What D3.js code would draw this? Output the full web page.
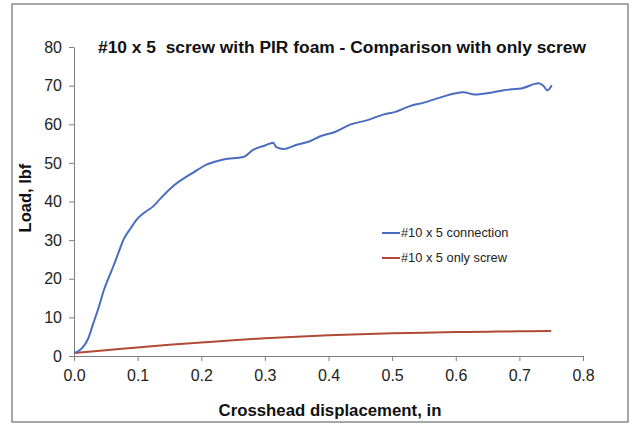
<!DOCTYPE html>
<html>
<head>
    <title>#10 x 5 screw with PIR foam</title>
    <script src="https://cdnjs.cloudflare.com/ajax/libs/d3/7.8.5/d3.min.js"></script>
    <style>
        body {
            margin: 0;
            background: white;
            font-family: "Liberation Sans", Arial, sans-serif;
        }
        .tick text {
            font-size: 16px;
            fill: #222;
        }
        .tick line, .domain {
            stroke: #808080;
        }
    </style>
</head>
<body>
    <svg id="chart" width="632" height="426"></svg>

    <script>
        // Datos: #10 x 5 connection (tornillo + espuma PIR)
        const connDisp = [0, 0.007, 0.014, 0.022, 0.030, 0.039, 0.047, 0.055, 0.062, 0.070,
            0.078, 0.088, 0.0985, 0.112, 0.125, 0.135, 0.156, 0.1875, 0.209, 0.235,
            0.266, 0.282, 0.300, 0.313, 0.318, 0.329, 0.350, 0.371, 0.387, 0.410,
            0.434, 0.460, 0.486, 0.505, 0.528, 0.550, 0.575, 0.612, 0.630, 0.659,
            0.675, 0.706, 0.730, 0.738, 0.744, 0.751];
        const connLoad = [0.8, 1.3, 2.3, 4.4, 8.3, 12.7, 17.1, 20.5, 23.3, 26.8,
            30.2, 32.8, 35.3, 37.3, 38.8, 40.6, 44.0, 47.5, 49.6, 50.9,
            51.5, 53.4, 54.5, 55.2, 54.1, 53.6, 54.7, 55.6, 56.9, 58.0,
            59.9, 61.0, 62.5, 63.2, 64.7, 65.6, 66.9, 68.3, 67.7, 68.3,
            68.8, 69.4, 70.6, 69.9, 68.8, 70.1];

        // Datos: #10 x 5 only screw
        const screwDisp = [0, 0.05, 0.1, 0.15, 0.2, 0.25, 0.3, 0.35, 0.4, 0.45,
            0.5, 0.55, 0.6, 0.65, 0.7, 0.75];
        const screwLoad = [0.8, 1.5, 2.2, 2.9, 3.5, 4.1, 4.6, 5.0, 5.35, 5.65,
            5.9, 6.05, 6.2, 6.3, 6.4, 6.45];

        const xTicks = [0, 0.1, 0.2, 0.3, 0.4, 0.5, 0.6, 0.7, 0.8];
        const yTicks = [0, 10, 20, 30, 40, 50, 60, 70, 80];

        const seriesNames = ["#10 x 5 connection", "#10 x 5 only screw"];
        const seriesColors = ["#4a6cc0", "#b04a35"];

        const svg = d3.select("#chart");

        // Marco exterior
        svg.append("rect")
            .attr("x", 12)
            .attr("y", 4)
            .attr("width", 616)
            .attr("height", 418)
            .attr("fill", "white")
            .attr("stroke", "#8a8a8a")
            .attr("stroke-width", 1.5);

        const plot = {left: 74, right: 583, top: 47, bottom: 356};

        const x = d3.scaleLinear()
            .domain([0, 0.8])
            .range([plot.left, plot.right]);

        const y = d3.scaleLinear()
            .domain([0, 80])
            .range([plot.bottom, plot.top]);

        // Ejes
        svg.append("g")
            .attr("transform", `translate(0,${plot.bottom})`)
            .call(d3.axisBottom(x).tickValues(xTicks).tickFormat(d3.format(".1f"))
                .tickSize(5).tickSizeOuter(5).tickPadding(9))
            .call(g => g.selectAll(".tick text").attr("font-family", "Liberation Sans, Arial, sans-serif"));

        svg.append("g")
            .attr("transform", `translate(${plot.left},0)`)
            .call(d3.axisLeft(y).tickValues(yTicks).tickFormat(d3.format("d"))
                .tickSize(5).tickSizeOuter(0).tickPadding(7))
            .call(g => g.selectAll(".tick text").attr("font-family", "Liberation Sans, Arial, sans-serif"));

        // Curvas
        const line = d3.line()
            .x(d => x(d[0]))
            .y(d => y(d[1]))
            .curve(d3.curveMonotoneX);

        const series = [
            d3.zip(connDisp, connLoad),
            d3.zip(screwDisp, screwLoad)
        ];

        series.slice().reverse().forEach((data, i) => {
            const idx = series.length - 1 - i;
            svg.append("path")
                .datum(data)
                .attr("fill", "none")
                .attr("stroke", seriesColors[idx])
                .attr("stroke-width", 2)
                .attr("stroke-linejoin", "round")
                .attr("d", line);
        });

        // Título
        svg.append("text")
            .attr("x", 342)
            .attr("y", 53)
            .attr("text-anchor", "middle")
            .attr("font-size", "17.4px")
            .attr("font-weight", "bold")
            .attr("fill", "#111")
            .attr("xml:space", "preserve")
            .style("white-space", "pre")
            .text("#10 x 5  screw with PIR foam - Comparison with only screw");

        // Títulos de ejes
        svg.append("text")
            .attr("x", 330)
            .attr("y", 416)
            .attr("text-anchor", "middle")
            .attr("font-size", "16.8px")
            .attr("font-weight", "bold")
            .attr("fill", "#111")
            .text("Crosshead displacement, in");

        svg.append("text")
            .attr("transform", "translate(31,198) rotate(-90)")
            .attr("text-anchor", "middle")
            .attr("font-size", "16.5px")
            .attr("font-weight", "bold")
            .attr("fill", "#111")
            .text("Load, lbf");

        // Leyenda
        const legend = svg.append("g");
        seriesNames.forEach((name, i) => {
            const ly = 233 + i * 25;
            legend.append("line")
                .attr("x1", 382)
                .attr("x2", 400)
                .attr("y1", ly)
                .attr("y2", ly)
                .attr("stroke", seriesColors[i])
                .attr("stroke-width", 2);
            legend.append("text")
                .attr("x", 401)
                .attr("y", ly)
                .attr("dy", "0.35em")
                .attr("font-size", "12.8px")
                .attr("fill", "#222")
                .text(name);
        });
    </script>
</body>
</html>
